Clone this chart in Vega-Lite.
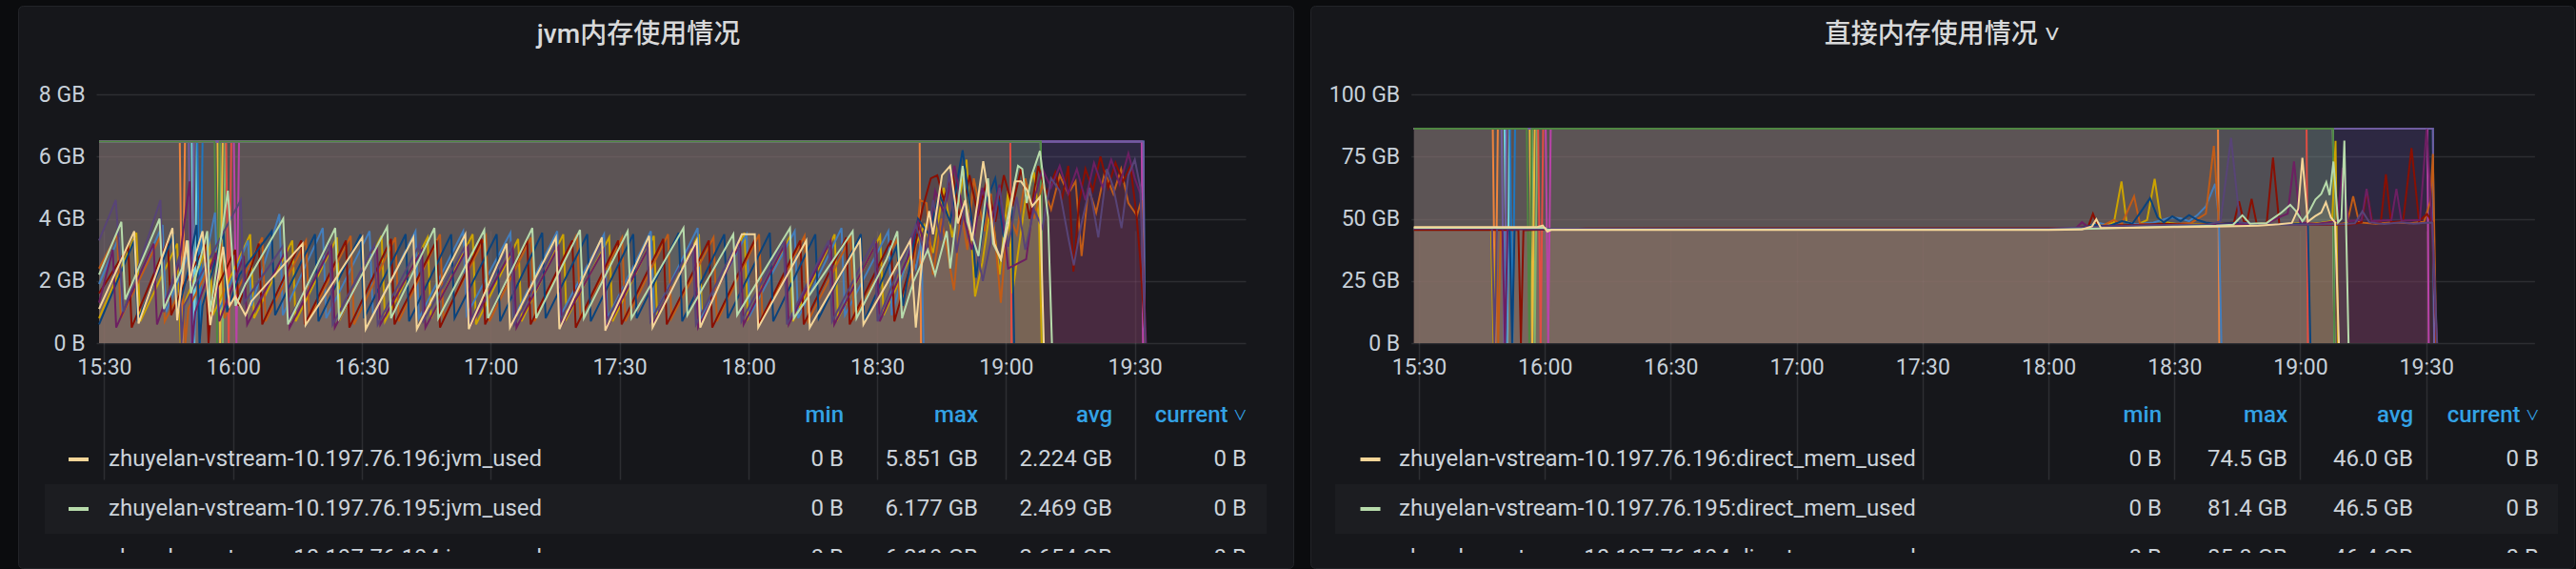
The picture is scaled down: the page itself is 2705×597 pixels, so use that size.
{
"$schema":"https://vega.github.io/schema/vega-lite/v6.json",
"background":"#0b0c0e",
"padding":{"left":18,"top":5,"right":3,"bottom":2},
"autosize":{"type":"pad"},
"spacing":18,
"bounds":"flush",
"config":{
 "view":{"stroke":null},
 "axis":{"domain":false,"labelFont":"Roboto","labelFontSize":23,"labelColor":"#c7d0d9","gridColor":"#ffffff","gridOpacity":0.1,"gridWidth":1.5,"tickColor":"#ffffff","tickOpacity":0.1,"tickWidth":1.5,"zindex":1,"labelFlush":false,"labelOverlap":false},
 "title":{"anchor":"middle","frame":"group","offset":-45,"baseline":"middle","fontSize":28,"font":"Roboto, 'Noto Sans CJK SC', sans-serif","fontWeight":500,"color":"#d8d9da"},
 "text":{"font":"Roboto","fontSize":24,"color":"#ccd3da"}
},
"datasets":{
"legL":[
 {"r":1,"s":"U17","name":"zhuyelan-vstream-10.197.76.196:jvm_used","min":"0 B","max":"5.851 GB","avg":"2.224 GB","current":"0 B"},
 {"r":2,"s":"U16","name":"zhuyelan-vstream-10.197.76.195:jvm_used","min":"0 B","max":"6.177 GB","avg":"2.469 GB","current":"0 B"},
 {"r":3,"s":"U15","name":"zhuyelan-vstream-10.197.76.194:jvm_used","min":"0 B","max":"6.219 GB","avg":"2.654 GB","current":"0 B"}
],
"legR":[
 {"r":1,"s":"U17","name":"zhuyelan-vstream-10.197.76.196:direct_mem_used","min":"0 B","max":"74.5 GB","avg":"46.0 GB","current":"0 B"},
 {"r":2,"s":"U16","name":"zhuyelan-vstream-10.197.76.195:direct_mem_used","min":"0 B","max":"81.4 GB","avg":"46.5 GB","current":"0 B"},
 {"r":3,"s":"U15","name":"zhuyelan-vstream-10.197.76.194:direct_mem_used","min":"0 B","max":"85.0 GB","avg":"46.4 GB","current":"0 B"}
],
"jvm":[
{"s":"S0","m":28.8,"v":6.48},{"s":"S0","m":57.0,"v":6.48},{"s":"S0","m":57.6,"v":0},{"s":"S0","m":58.2,"v":6.48},{"s":"S0","m":248.1,"v":6.48},{"s":"S0","m":248.4,"v":0},
{"s":"S1","m":28.8,"v":6.48},{"s":"S1","m":56.4,"v":6.48},{"s":"S1","m":57.0,"v":0},{"s":"S1","m":57.6,"v":6.48},{"s":"S1","m":248.1,"v":6.48},{"s":"S1","m":248.4,"v":0},
{"s":"S2","m":28.8,"v":6.48},{"s":"S2","m":50.4,"v":6.48},{"s":"S2","m":51.0,"v":0},{"s":"S2","m":51.6,"v":6.48},{"s":"S2","m":248.1,"v":6.48},{"s":"S2","m":248.4,"v":0},
{"s":"S3","m":28.8,"v":6.48},{"s":"S3","m":47.6,"v":6.48},{"s":"S3","m":48.2,"v":0},{"s":"S3","m":48.8,"v":6.48},{"s":"S3","m":219.9,"v":6.48},{"s":"S3","m":220.2,"v":0},
{"s":"S4","m":28.8,"v":6.48},{"s":"S4","m":58.4,"v":6.48},{"s":"S4","m":59.0,"v":0},{"s":"S4","m":59.6,"v":6.48},{"s":"S4","m":241.0,"v":6.48},{"s":"S4","m":241.3,"v":0},
{"s":"S5","m":28.8,"v":6.48},{"s":"S5","m":51.7,"v":6.48},{"s":"S5","m":52.3,"v":0},{"s":"S5","m":52.9,"v":6.48},{"s":"S5","m":272.0,"v":6.48},{"s":"S5","m":272.3,"v":0},
{"s":"S6","m":28.8,"v":6.48},{"s":"S6","m":60.2,"v":6.48},{"s":"S6","m":60.8,"v":0},{"s":"S6","m":61.4,"v":6.48},{"s":"S6","m":271.6,"v":6.48},{"s":"S6","m":271.9,"v":0},
{"s":"S7","m":28.8,"v":6.48},{"s":"S7","m":49.7,"v":6.48},{"s":"S7","m":50.3,"v":0},{"s":"S7","m":50.9,"v":6.48},{"s":"S7","m":272.0,"v":6.48},{"s":"S7","m":272.3,"v":0},
{"s":"S8","m":28.8,"v":6.48},{"s":"S8","m":55.7,"v":6.48},{"s":"S8","m":56.3,"v":0},{"s":"S8","m":56.9,"v":6.48},{"s":"S8","m":248.1,"v":6.48},{"s":"S8","m":248.4,"v":0},
{"s":"U9","m":28.8,"v":0.8},{"s":"U9","m":37.5,"v":3.55},{"s":"U9","m":38.4,"v":0.7},{"s":"U9","m":47.0,"v":3.2},{"s":"U9","m":47.8,"v":0},{"s":"U9","m":48.5,"v":1.2},{"s":"U9","m":54.5,"v":3.3},{"s":"U9","m":55.3,"v":0.9},{"s":"U9","m":64.0,"v":3.5},{"s":"U9","m":64.9,"v":0.8},{"s":"U9","m":73.8,"v":3.3},{"s":"U9","m":74.6,"v":0.7},{"s":"U9","m":84.2,"v":3.4},{"s":"U9","m":85.0,"v":0.8},{"s":"U9","m":94.6,"v":3.45},{"s":"U9","m":95.4,"v":0.7},{"s":"U9","m":105.3,"v":3.4},{"s":"U9","m":106.1,"v":0.8},{"s":"U9","m":115.8,"v":3.5},{"s":"U9","m":116.6,"v":0.6},{"s":"U9","m":126.4,"v":3.35},{"s":"U9","m":127.2,"v":0.7},{"s":"U9","m":136.9,"v":3.5},{"s":"U9","m":137.7,"v":0.8},{"s":"U9","m":147.6,"v":3.4},{"s":"U9","m":148.4,"v":0.7},{"s":"U9","m":158.0,"v":3.45},{"s":"U9","m":158.8,"v":0.8},{"s":"U9","m":168.5,"v":3.5},{"s":"U9","m":169.3,"v":0.7},{"s":"U9","m":179.1,"v":3.55},{"s":"U9","m":179.9,"v":0.8},{"s":"U9","m":189.6,"v":3.4},{"s":"U9","m":190.4,"v":0.7},{"s":"U9","m":200.1,"v":3.5},{"s":"U9","m":200.9,"v":0.8},{"s":"U9","m":210.7,"v":3.45},{"s":"U9","m":211.5,"v":0.9},{"s":"U9","m":218.5,"v":3.0},{"s":"U9","m":221.0,"v":3.8},{"s":"U9","m":223.0,"v":2.9},{"s":"U9","m":225.5,"v":5.0},{"s":"U9","m":227.5,"v":3.4},{"s":"U9","m":230.8,"v":5.9},{"s":"U9","m":232.8,"v":1.5},{"s":"U9","m":234.5,"v":2.6},{"s":"U9","m":236.5,"v":4.5},{"s":"U9","m":238.5,"v":2.2},{"s":"U9","m":240.5,"v":4.9},{"s":"U9","m":241.5,"v":1.6},{"s":"U9","m":244.5,"v":4.6},{"s":"U9","m":246.5,"v":5.5},{"s":"U9","m":247.7,"v":4.0},{"s":"U9","m":248.3,"v":0},
{"s":"U10","m":28.8,"v":1.9},{"s":"U10","m":33.4,"v":3.4},{"s":"U10","m":34.2,"v":0.9},{"s":"U10","m":43.6,"v":3.8},{"s":"U10","m":44.4,"v":1.0},{"s":"U10","m":50.0,"v":3.0},{"s":"U10","m":50.8,"v":0},{"s":"U10","m":51.6,"v":1.3},{"s":"U10","m":55.8,"v":4.2},{"s":"U10","m":56.6,"v":1.0},{"s":"U10","m":63.5,"v":3.3},{"s":"U10","m":64.3,"v":1.2},{"s":"U10","m":70.8,"v":4.15},{"s":"U10","m":71.6,"v":0.9},{"s":"U10","m":80.9,"v":3.7},{"s":"U10","m":81.7,"v":0.8},{"s":"U10","m":91.8,"v":3.6},{"s":"U10","m":92.6,"v":0.9},{"s":"U10","m":102.5,"v":3.6},{"s":"U10","m":103.3,"v":0.8},{"s":"U10","m":113.6,"v":3.6},{"s":"U10","m":114.4,"v":0.9},{"s":"U10","m":124.6,"v":3.55},{"s":"U10","m":125.4,"v":0.8},{"s":"U10","m":135.5,"v":3.6},{"s":"U10","m":136.3,"v":0.9},{"s":"U10","m":146.4,"v":3.5},{"s":"U10","m":147.2,"v":0.8},{"s":"U10","m":157.3,"v":3.6},{"s":"U10","m":158.1,"v":0.9},{"s":"U10","m":168.2,"v":3.7},{"s":"U10","m":169.0,"v":0.8},{"s":"U10","m":179.6,"v":3.5},{"s":"U10","m":180.4,"v":0.9},{"s":"U10","m":190.8,"v":3.6},{"s":"U10","m":191.6,"v":0.8},{"s":"U10","m":201.7,"v":3.7},{"s":"U10","m":202.5,"v":0.9},{"s":"U10","m":212.6,"v":3.6},{"s":"U10","m":213.4,"v":0.9},{"s":"U10","m":217.5,"v":3.0},{"s":"U10","m":219.0,"v":2.4},{"s":"U10","m":220.3,"v":3.3},{"s":"U10","m":220.8,"v":0},
{"s":"U11","m":28.8,"v":2.4},{"s":"U11","m":33.0,"v":3.5},{"s":"U11","m":33.9,"v":0.8},{"s":"U11","m":43.3,"v":3.5},{"s":"U11","m":44.1,"v":0.7},{"s":"U11","m":48.2,"v":1.8},{"s":"U11","m":48.9,"v":0},{"s":"U11","m":49.6,"v":1.1},{"s":"U11","m":57.2,"v":3.2},{"s":"U11","m":58.0,"v":0.8},{"s":"U11","m":66.8,"v":3.4},{"s":"U11","m":67.6,"v":0.7},{"s":"U11","m":77.0,"v":3.3},{"s":"U11","m":77.8,"v":0.8},{"s":"U11","m":87.4,"v":3.45},{"s":"U11","m":88.2,"v":0.6},{"s":"U11","m":97.8,"v":3.4},{"s":"U11","m":98.6,"v":0.7},{"s":"U11","m":108.2,"v":3.5},{"s":"U11","m":109.0,"v":0.8},{"s":"U11","m":118.9,"v":3.45},{"s":"U11","m":119.7,"v":0.7},{"s":"U11","m":129.4,"v":3.4},{"s":"U11","m":130.2,"v":0.7},{"s":"U11","m":140.1,"v":3.5},{"s":"U11","m":140.9,"v":0.8},{"s":"U11","m":150.6,"v":3.4},{"s":"U11","m":151.4,"v":0.7},{"s":"U11","m":161.3,"v":3.5},{"s":"U11","m":162.1,"v":0.8},{"s":"U11","m":171.9,"v":3.4},{"s":"U11","m":172.7,"v":0.7},{"s":"U11","m":182.5,"v":3.5},{"s":"U11","m":183.3,"v":0.8},{"s":"U11","m":193.1,"v":3.45},{"s":"U11","m":193.9,"v":0.7},{"s":"U11","m":203.8,"v":3.4},{"s":"U11","m":204.6,"v":0.8},{"s":"U11","m":214.5,"v":3.3},{"s":"U11","m":215.3,"v":1.2},{"s":"U11","m":218.5,"v":2.4},{"s":"U11","m":220.0,"v":4.6},{"s":"U11","m":221.5,"v":4.5},{"s":"U11","m":223.0,"v":2.2},{"s":"U11","m":225.0,"v":4.0},{"s":"U11","m":227.9,"v":1.7},{"s":"U11","m":229.5,"v":4.3},{"s":"U11","m":231.0,"v":3.0},{"s":"U11","m":232.5,"v":5.3},{"s":"U11","m":235.0,"v":3.6},{"s":"U11","m":236.5,"v":4.8},{"s":"U11","m":238.8,"v":1.3},{"s":"U11","m":240.5,"v":4.2},{"s":"U11","m":242.5,"v":3.5},{"s":"U11","m":244.5,"v":5.3},{"s":"U11","m":246.5,"v":4.0},{"s":"U11","m":248.5,"v":5.1},{"s":"U11","m":250.5,"v":4.3},{"s":"U11","m":252.5,"v":5.4},{"s":"U11","m":254.5,"v":4.8},{"s":"U11","m":256.2,"v":5.2},{"s":"U11","m":257.6,"v":2.8},{"s":"U11","m":259.2,"v":5.0},{"s":"U11","m":261.0,"v":4.2},{"s":"U11","m":263.0,"v":5.5},{"s":"U11","m":265.0,"v":4.8},{"s":"U11","m":266.8,"v":5.6},{"s":"U11","m":268.5,"v":4.5},{"s":"U11","m":270.5,"v":4.1},{"s":"U11","m":271.5,"v":4.6},{"s":"U11","m":272.4,"v":0},
{"s":"U12","m":28.8,"v":1.6},{"s":"U12","m":35.6,"v":3.1},{"s":"U12","m":36.4,"v":0.5},{"s":"U12","m":44.8,"v":3.3},{"s":"U12","m":45.6,"v":0.9},{"s":"U12","m":49.0,"v":2.0},{"s":"U12","m":53.5,"v":3.1},{"s":"U12","m":54.3,"v":0},{"s":"U12","m":55.0,"v":1.4},{"s":"U12","m":60.5,"v":3.0},{"s":"U12","m":61.3,"v":1.2},{"s":"U12","m":66.0,"v":3.2},{"s":"U12","m":66.8,"v":0.6},{"s":"U12","m":75.9,"v":3.3},{"s":"U12","m":76.7,"v":0.6},{"s":"U12","m":86.3,"v":3.3},{"s":"U12","m":87.1,"v":0.5},{"s":"U12","m":96.8,"v":3.35},{"s":"U12","m":97.6,"v":0.6},{"s":"U12","m":107.4,"v":3.3},{"s":"U12","m":108.2,"v":0.5},{"s":"U12","m":117.9,"v":3.35},{"s":"U12","m":118.7,"v":0.6},{"s":"U12","m":128.5,"v":3.3},{"s":"U12","m":129.3,"v":0.6},{"s":"U12","m":139.0,"v":3.3},{"s":"U12","m":139.8,"v":0.5},{"s":"U12","m":149.7,"v":3.3},{"s":"U12","m":150.5,"v":0.6},{"s":"U12","m":160.2,"v":3.35},{"s":"U12","m":161.0,"v":0.6},{"s":"U12","m":170.8,"v":3.3},{"s":"U12","m":171.6,"v":0.5},{"s":"U12","m":181.6,"v":3.35},{"s":"U12","m":182.4,"v":0.6},{"s":"U12","m":192.1,"v":3.3},{"s":"U12","m":192.9,"v":0.6},{"s":"U12","m":202.8,"v":3.4},{"s":"U12","m":203.6,"v":0.6},{"s":"U12","m":213.2,"v":3.3},{"s":"U12","m":214.0,"v":0.7},{"s":"U12","m":218.0,"v":2.6},{"s":"U12","m":220.5,"v":4.3},{"s":"U12","m":222.5,"v":5.3},{"s":"U12","m":224.0,"v":5.4},{"s":"U12","m":225.5,"v":4.6},{"s":"U12","m":227.5,"v":5.5},{"s":"U12","m":229.5,"v":3.8},{"s":"U12","m":231.5,"v":5.4},{"s":"U12","m":233.5,"v":4.1},{"s":"U12","m":235.5,"v":5.2},{"s":"U12","m":237.5,"v":3.9},{"s":"U12","m":239.5,"v":5.4},{"s":"U12","m":241.5,"v":4.4},{"s":"U12","m":243.5,"v":5.6},{"s":"U12","m":245.5,"v":4.0},{"s":"U12","m":247.5,"v":5.7},{"s":"U12","m":249.5,"v":4.8},{"s":"U12","m":251.5,"v":5.5},{"s":"U12","m":253.0,"v":4.6},{"s":"U12","m":254.5,"v":5.7},{"s":"U12","m":255.7,"v":2.3},{"s":"U12","m":257.0,"v":4.5},{"s":"U12","m":258.5,"v":5.6},{"s":"U12","m":260.2,"v":4.9},{"s":"U12","m":262.0,"v":6.0},{"s":"U12","m":263.8,"v":5.0},{"s":"U12","m":265.5,"v":5.8},{"s":"U12","m":267.3,"v":5.2},{"s":"U12","m":269.0,"v":5.7},{"s":"U12","m":270.4,"v":4.1},{"s":"U12","m":271.2,"v":2.8},{"s":"U12","m":272.5,"v":0},
{"s":"U13","m":28.8,"v":0.6},{"s":"U13","m":37.0,"v":3.3},{"s":"U13","m":37.8,"v":0.7},{"s":"U13","m":46.2,"v":3.5},{"s":"U13","m":47.0,"v":0.9},{"s":"U13","m":49.5,"v":2.3},{"s":"U13","m":51.5,"v":3.8},{"s":"U13","m":52.2,"v":0},{"s":"U13","m":52.9,"v":1.2},{"s":"U13","m":57.8,"v":3.6},{"s":"U13","m":58.6,"v":1.0},{"s":"U13","m":61.5,"v":2.2},{"s":"U13","m":69.0,"v":3.6},{"s":"U13","m":69.8,"v":0.9},{"s":"U13","m":79.1,"v":3.5},{"s":"U13","m":79.9,"v":0.7},{"s":"U13","m":89.7,"v":3.5},{"s":"U13","m":90.5,"v":0.8},{"s":"U13","m":100.2,"v":3.5},{"s":"U13","m":101.0,"v":0.7},{"s":"U13","m":110.8,"v":3.5},{"s":"U13","m":111.6,"v":0.8},{"s":"U13","m":121.4,"v":3.5},{"s":"U13","m":122.2,"v":0.7},{"s":"U13","m":132.0,"v":3.55},{"s":"U13","m":132.8,"v":0.8},{"s":"U13","m":142.5,"v":3.5},{"s":"U13","m":143.3,"v":0.7},{"s":"U13","m":153.2,"v":3.5},{"s":"U13","m":154.0,"v":0.8},{"s":"U13","m":163.8,"v":3.55},{"s":"U13","m":164.6,"v":0.7},{"s":"U13","m":174.4,"v":3.5},{"s":"U13","m":175.2,"v":0.8},{"s":"U13","m":185.0,"v":3.55},{"s":"U13","m":185.8,"v":0.7},{"s":"U13","m":195.6,"v":3.5},{"s":"U13","m":196.4,"v":0.8},{"s":"U13","m":206.2,"v":3.5},{"s":"U13","m":207.0,"v":0.7},{"s":"U13","m":214.5,"v":3.1},{"s":"U13","m":216.0,"v":1.2},{"s":"U13","m":219.5,"v":4.0},{"s":"U13","m":222.0,"v":3.5},{"s":"U13","m":224.5,"v":4.8},{"s":"U13","m":227.0,"v":3.9},{"s":"U13","m":229.9,"v":6.2},{"s":"U13","m":231.8,"v":4.2},{"s":"U13","m":233.0,"v":2.1},{"s":"U13","m":235.5,"v":4.6},{"s":"U13","m":237.5,"v":5.3},{"s":"U13","m":239.5,"v":3.4},{"s":"U13","m":241.3,"v":4.5},{"s":"U13","m":241.9,"v":0},
{"s":"U14","m":28.8,"v":1.3},{"s":"U14","m":32.0,"v":3.0},{"s":"U14","m":32.8,"v":0.5},{"s":"U14","m":41.5,"v":3.2},{"s":"U14","m":42.3,"v":0.6},{"s":"U14","m":47.5,"v":2.6},{"s":"U14","m":49.9,"v":5.2},{"s":"U14","m":50.5,"v":0},{"s":"U14","m":51.2,"v":1.0},{"s":"U14","m":56.0,"v":2.9},{"s":"U14","m":56.8,"v":0.7},{"s":"U14","m":62.5,"v":2.8},{"s":"U14","m":63.3,"v":0.6},{"s":"U14","m":72.4,"v":3.0},{"s":"U14","m":73.2,"v":0.5},{"s":"U14","m":82.9,"v":3.1},{"s":"U14","m":83.7,"v":0.5},{"s":"U14","m":93.5,"v":3.1},{"s":"U14","m":94.3,"v":0.6},{"s":"U14","m":104.0,"v":3.0},{"s":"U14","m":104.8,"v":0.5},{"s":"U14","m":114.7,"v":3.1},{"s":"U14","m":115.5,"v":0.6},{"s":"U14","m":125.2,"v":3.05},{"s":"U14","m":126.0,"v":0.5},{"s":"U14","m":135.8,"v":3.1},{"s":"U14","m":136.6,"v":0.6},{"s":"U14","m":146.3,"v":3.0},{"s":"U14","m":147.1,"v":0.5},{"s":"U14","m":156.9,"v":3.1},{"s":"U14","m":157.7,"v":0.6},{"s":"U14","m":167.5,"v":3.1},{"s":"U14","m":168.3,"v":0.5},{"s":"U14","m":178.1,"v":3.2},{"s":"U14","m":178.9,"v":0.6},{"s":"U14","m":188.6,"v":3.2},{"s":"U14","m":189.4,"v":0.6},{"s":"U14","m":199.2,"v":3.3},{"s":"U14","m":200.0,"v":0.6},{"s":"U14","m":209.8,"v":3.2},{"s":"U14","m":210.6,"v":0.7},{"s":"U14","m":217.0,"v":2.7},{"s":"U14","m":219.5,"v":3.9},{"s":"U14","m":221.5,"v":2.9},{"s":"U14","m":223.5,"v":4.9},{"s":"U14","m":225.5,"v":4.2},{"s":"U14","m":228.0,"v":5.7},{"s":"U14","m":230.0,"v":4.2},{"s":"U14","m":232.0,"v":3.0},{"s":"U14","m":234.5,"v":5.0},{"s":"U14","m":236.5,"v":3.9},{"s":"U14","m":238.5,"v":5.1},{"s":"U14","m":240.5,"v":2.4},{"s":"U14","m":244.7,"v":2.7},{"s":"U14","m":246.5,"v":4.6},{"s":"U14","m":248.5,"v":5.6},{"s":"U14","m":250.5,"v":5.0},{"s":"U14","m":252.5,"v":5.7},{"s":"U14","m":254.5,"v":4.8},{"s":"U14","m":256.5,"v":5.6},{"s":"U14","m":258.5,"v":4.6},{"s":"U14","m":260.5,"v":5.8},{"s":"U14","m":262.5,"v":5.0},{"s":"U14","m":264.5,"v":5.9},{"s":"U14","m":266.5,"v":5.1},{"s":"U14","m":268.5,"v":6.1},{"s":"U14","m":270.0,"v":5.3},{"s":"U14","m":271.3,"v":4.8},{"s":"U14","m":272.6,"v":0},
{"s":"U15","m":28.8,"v":3.3},{"s":"U15","m":32.7,"v":4.6},{"s":"U15","m":34.5,"v":1.0},{"s":"U15","m":43.1,"v":4.6},{"s":"U15","m":43.9,"v":1.0},{"s":"U15","m":47.5,"v":2.8},{"s":"U15","m":48.0,"v":0},{"s":"U15","m":48.6,"v":1.2},{"s":"U15","m":61.8,"v":4.6},{"s":"U15","m":62.6,"v":1.3},{"s":"U15","m":72.0,"v":3.2},{"s":"U15","m":72.8,"v":0.7},{"s":"U15","m":82.4,"v":3.2},{"s":"U15","m":83.2,"v":0.6},{"s":"U15","m":92.9,"v":3.15},{"s":"U15","m":93.7,"v":0.6},{"s":"U15","m":103.5,"v":3.2},{"s":"U15","m":104.3,"v":0.7},{"s":"U15","m":114.0,"v":3.1},{"s":"U15","m":114.8,"v":0.6},{"s":"U15","m":124.7,"v":3.2},{"s":"U15","m":125.5,"v":0.6},{"s":"U15","m":135.2,"v":3.15},{"s":"U15","m":136.0,"v":0.7},{"s":"U15","m":145.8,"v":3.2},{"s":"U15","m":146.6,"v":0.6},{"s":"U15","m":156.4,"v":3.2},{"s":"U15","m":157.2,"v":0.7},{"s":"U15","m":167.0,"v":3.2},{"s":"U15","m":167.8,"v":0.6},{"s":"U15","m":177.6,"v":3.3},{"s":"U15","m":178.4,"v":0.7},{"s":"U15","m":188.2,"v":3.3},{"s":"U15","m":189.0,"v":0.6},{"s":"U15","m":198.7,"v":3.3},{"s":"U15","m":199.5,"v":0.7},{"s":"U15","m":209.3,"v":3.3},{"s":"U15","m":210.1,"v":0.7},{"s":"U15","m":216.5,"v":2.9},{"s":"U15","m":219.0,"v":3.8},{"s":"U15","m":221.3,"v":2.8},{"s":"U15","m":223.0,"v":4.6},{"s":"U15","m":224.8,"v":3.3},{"s":"U15","m":226.8,"v":5.5},{"s":"U15","m":228.5,"v":2.9},{"s":"U15","m":230.5,"v":4.5},{"s":"U15","m":232.5,"v":3.5},{"s":"U15","m":234.6,"v":2.0},{"s":"U15","m":236.5,"v":3.3},{"s":"U15","m":238.5,"v":5.0},{"s":"U15","m":240.5,"v":3.1},{"s":"U15","m":242.5,"v":4.7},{"s":"U15","m":244.5,"v":3.0},{"s":"U15","m":246.5,"v":4.3},{"s":"U15","m":248.5,"v":3.7},{"s":"U15","m":250.5,"v":5.3},{"s":"U15","m":252.5,"v":4.9},{"s":"U15","m":254.5,"v":3.4},{"s":"U15","m":255.8,"v":2.5},{"s":"U15","m":257.5,"v":3.8},{"s":"U15","m":259.5,"v":5.0},{"s":"U15","m":261.5,"v":3.4},{"s":"U15","m":263.5,"v":5.6},{"s":"U15","m":265.0,"v":5.0},{"s":"U15","m":266.9,"v":3.7},{"s":"U15","m":268.5,"v":5.4},{"s":"U15","m":270.0,"v":5.9},{"s":"U15","m":271.3,"v":5.0},{"s":"U15","m":272.4,"v":0},
{"s":"U16","m":28.8,"v":2.2},{"s":"U16","m":34.0,"v":3.9},{"s":"U16","m":34.9,"v":1.4},{"s":"U16","m":42.9,"v":4.0},{"s":"U16","m":43.9,"v":1.1},{"s":"U16","m":48.1,"v":2.4},{"s":"U16","m":49.5,"v":3.3},{"s":"U16","m":50.2,"v":1.6},{"s":"U16","m":52.0,"v":2.5},{"s":"U16","m":54.0,"v":3.6},{"s":"U16","m":54.7,"v":1.0},{"s":"U16","m":58.8,"v":4.9},{"s":"U16","m":60.6,"v":1.2},{"s":"U16","m":62.9,"v":1.9},{"s":"U16","m":71.7,"v":4.0},{"s":"U16","m":72.8,"v":0.6},{"s":"U16","m":83.8,"v":3.7},{"s":"U16","m":84.7,"v":0.8},{"s":"U16","m":95.9,"v":3.74},{"s":"U16","m":96.8,"v":0.8},{"s":"U16","m":106.9,"v":3.7},{"s":"U16","m":107.8,"v":0.8},{"s":"U16","m":118.5,"v":3.64},{"s":"U16","m":119.4,"v":0.8},{"s":"U16","m":129.7,"v":3.7},{"s":"U16","m":130.6,"v":0.8},{"s":"U16","m":140.8,"v":3.64},{"s":"U16","m":141.7,"v":0.8},{"s":"U16","m":151.9,"v":3.6},{"s":"U16","m":152.8,"v":0.8},{"s":"U16","m":164.9,"v":3.7},{"s":"U16","m":165.8,"v":0.9},{"s":"U16","m":176.5,"v":3.5},{"s":"U16","m":177.4,"v":0.9},{"s":"U16","m":189.7,"v":3.7},{"s":"U16","m":190.6,"v":0.8},{"s":"U16","m":204.3,"v":3.6},{"s":"U16","m":205.2,"v":0.8},{"s":"U16","m":212.2,"v":2.7},{"s":"U16","m":214.7,"v":3.6},{"s":"U16","m":215.8,"v":0.8},{"s":"U16","m":218.5,"v":2.0},{"s":"U16","m":221.8,"v":3.0},{"s":"U16","m":223.5,"v":2.2},{"s":"U16","m":226.2,"v":3.6},{"s":"U16","m":227.0,"v":2.4},{"s":"U16","m":229.9,"v":5.7},{"s":"U16","m":231.0,"v":3.9},{"s":"U16","m":233.6,"v":2.8},{"s":"U16","m":235.8,"v":5.3},{"s":"U16","m":237.0,"v":3.2},{"s":"U16","m":238.8,"v":2.7},{"s":"U16","m":240.2,"v":3.9},{"s":"U16","m":242.8,"v":5.7},{"s":"U16","m":243.8,"v":5.6},{"s":"U16","m":244.8,"v":4.5},{"s":"U16","m":246.0,"v":5.4},{"s":"U16","m":247.9,"v":6.18},{"s":"U16","m":249.8,"v":4.05},{"s":"U16","m":250.7,"v":0},
{"s":"U17","m":28.8,"v":1.1},{"s":"U17","m":37.0,"v":3.6},{"s":"U17","m":38.0,"v":0.63},{"s":"U17","m":45.9,"v":3.7},{"s":"U17","m":47.0,"v":0.73},{"s":"U17","m":49.2,"v":3.3},{"s":"U17","m":50.0,"v":2.0},{"s":"U17","m":51.4,"v":2.9},{"s":"U17","m":52.9,"v":3.6},{"s":"U17","m":54.7,"v":0.58},{"s":"U17","m":57.7,"v":3.1},{"s":"U17","m":59.2,"v":1.2},{"s":"U17","m":60.5,"v":1.5},{"s":"U17","m":62.9,"v":0.9},{"s":"U17","m":64.3,"v":1.35},{"s":"U17","m":76.2,"v":3.2},{"s":"U17","m":76.9,"v":0.58},{"s":"U17","m":90.1,"v":3.4},{"s":"U17","m":90.9,"v":0.45},{"s":"U17","m":102.0,"v":3.4},{"s":"U17","m":102.8,"v":0.45},{"s":"U17","m":114.1,"v":3.5},{"s":"U17","m":114.9,"v":0.45},{"s":"U17","m":123.7,"v":3.2},{"s":"U17","m":124.5,"v":0.5},{"s":"U17","m":135.2,"v":3.4},{"s":"U17","m":136.0,"v":0.45},{"s":"U17","m":145.9,"v":3.4},{"s":"U17","m":146.7,"v":0.4},{"s":"U17","m":156.9,"v":3.45},{"s":"U17","m":157.7,"v":0.5},{"s":"U17","m":168.0,"v":3.3},{"s":"U17","m":168.8,"v":0.5},{"s":"U17","m":178.5,"v":3.5},{"s":"U17","m":181.5,"v":3.5},{"s":"U17","m":182.3,"v":0.5},{"s":"U17","m":193.5,"v":3.3},{"s":"U17","m":194.3,"v":0.5},{"s":"U17","m":206.0,"v":3.3},{"s":"U17","m":206.8,"v":0.6},{"s":"U17","m":212.2,"v":1.9},{"s":"U17","m":217.7,"v":3.3},{"s":"U17","m":219.0,"v":0.5},{"s":"U17","m":221.0,"v":3.4},{"s":"U17","m":222.1,"v":4.25},{"s":"U17","m":223.0,"v":3.5},{"s":"U17","m":225.1,"v":5.4},{"s":"U17","m":227.0,"v":5.7},{"s":"U17","m":228.8,"v":3.85},{"s":"U17","m":230.5,"v":4.6},{"s":"U17","m":232.1,"v":3.3},{"s":"U17","m":234.7,"v":5.85},{"s":"U17","m":236.0,"v":4.7},{"s":"U17","m":237.3,"v":3.2},{"s":"U17","m":238.8,"v":2.7},{"s":"U17","m":240.5,"v":3.8},{"s":"U17","m":242.1,"v":5.2},{"s":"U17","m":243.5,"v":5.2},{"s":"U17","m":245.0,"v":4.9},{"s":"U17","m":246.1,"v":4.4},{"s":"U17","m":247.9,"v":4.7},{"s":"U17","m":248.8,"v":0}
],
"direct":[
{"s":"S0","m":28.8,"v":86.2},{"s":"S0","m":57.0,"v":86.2},{"s":"S0","m":57.6,"v":0},{"s":"S0","m":58.2,"v":86.2},{"s":"S0","m":247.8,"v":86.2},{"s":"S0","m":248.1,"v":0},
{"s":"S1","m":28.8,"v":86.2},{"s":"S1","m":56.4,"v":86.2},{"s":"S1","m":57.0,"v":0},{"s":"S1","m":57.6,"v":86.2},{"s":"S1","m":247.8,"v":86.2},{"s":"S1","m":248.1,"v":0},
{"s":"S2","m":28.8,"v":86.2},{"s":"S2","m":50.4,"v":86.2},{"s":"S2","m":51.0,"v":0},{"s":"S2","m":51.6,"v":86.2},{"s":"S2","m":247.8,"v":86.2},{"s":"S2","m":248.1,"v":0},
{"s":"S3","m":28.8,"v":86.2},{"s":"S3","m":47.6,"v":86.2},{"s":"S3","m":48.2,"v":0},{"s":"S3","m":48.8,"v":86.2},{"s":"S3","m":220.4,"v":86.2},{"s":"S3","m":220.7,"v":0},
{"s":"S4","m":28.8,"v":86.2},{"s":"S4","m":58.4,"v":86.2},{"s":"S4","m":59.0,"v":0},{"s":"S4","m":59.6,"v":86.2},{"s":"S4","m":241.5,"v":86.2},{"s":"S4","m":241.8,"v":0},
{"s":"S5","m":28.8,"v":86.2},{"s":"S5","m":51.7,"v":86.2},{"s":"S5","m":52.3,"v":0},{"s":"S5","m":52.9,"v":86.2},{"s":"S5","m":271.6,"v":86.2},{"s":"S5","m":271.9,"v":0},
{"s":"S6","m":28.8,"v":86.2},{"s":"S6","m":60.2,"v":86.2},{"s":"S6","m":60.8,"v":0},{"s":"S6","m":61.4,"v":86.2},{"s":"S6","m":270.3,"v":86.2},{"s":"S6","m":270.6,"v":0},
{"s":"S7","m":28.8,"v":86.2},{"s":"S7","m":49.7,"v":86.2},{"s":"S7","m":50.3,"v":0},{"s":"S7","m":50.9,"v":86.2},{"s":"S7","m":271.6,"v":86.2},{"s":"S7","m":271.9,"v":0},
{"s":"S8","m":28.8,"v":86.2},{"s":"S8","m":55.7,"v":86.2},{"s":"S8","m":56.3,"v":0},{"s":"S8","m":56.9,"v":86.2},{"s":"S8","m":247.8,"v":86.2},{"s":"S8","m":248.1,"v":0},
{"s":"U9","m":28.8,"v":46.3},{"s":"U9","m":47.2,"v":46.3},{"s":"U9","m":47.8,"v":0},{"s":"U9","m":48.4,"v":45.8},{"s":"U9","m":120,"v":45.9},{"s":"U9","m":185,"v":46.0},{"s":"U9","m":190.0,"v":46.8},{"s":"U9","m":193.0,"v":47.3},{"s":"U9","m":195.6,"v":48.5},{"s":"U9","m":197.4,"v":65.0},{"s":"U9","m":198.6,"v":48.8},{"s":"U9","m":201.0,"v":47.5},{"s":"U9","m":203.5,"v":49.5},{"s":"U9","m":205.3,"v":66.0},{"s":"U9","m":206.8,"v":49.0},{"s":"U9","m":209.0,"v":48.3},{"s":"U9","m":212.0,"v":47.6},{"s":"U9","m":216.0,"v":47.8},{"s":"U9","m":220.0,"v":47.5},{"s":"U9","m":225.0,"v":47.8},{"s":"U9","m":230.0,"v":48.0},{"s":"U9","m":235.0,"v":47.7},{"s":"U9","m":240.0,"v":48.2},{"s":"U9","m":245.0,"v":48.4},{"s":"U9","m":247.6,"v":49.0},{"s":"U9","m":248.4,"v":81.3},{"s":"U9","m":249.0,"v":0},
{"s":"U10","m":28.8,"v":46.0},{"s":"U10","m":50.2,"v":46.0},{"s":"U10","m":50.8,"v":0},{"s":"U10","m":51.4,"v":45.9},{"s":"U10","m":150,"v":45.9},{"s":"U10","m":186,"v":46.0},{"s":"U10","m":189.5,"v":47.0},{"s":"U10","m":192.0,"v":48.4},{"s":"U10","m":194.5,"v":47.2},{"s":"U10","m":198.0,"v":48.8},{"s":"U10","m":201.0,"v":47.8},{"s":"U10","m":205.0,"v":48.5},{"s":"U10","m":209.0,"v":50.5},{"s":"U10","m":211.5,"v":50.2},{"s":"U10","m":213.5,"v":49.0},{"s":"U10","m":215.5,"v":51.5},{"s":"U10","m":217.5,"v":55.0},{"s":"U10","m":219.7,"v":64.0},{"s":"U10","m":220.6,"v":50.0},{"s":"U10","m":221.2,"v":0},
{"s":"U11","m":28.8,"v":46.2},{"s":"U11","m":48.3,"v":46.2},{"s":"U11","m":48.9,"v":0},{"s":"U11","m":49.5,"v":45.7},{"s":"U11","m":140,"v":45.8},{"s":"U11","m":186,"v":45.9},{"s":"U11","m":190,"v":46.5},{"s":"U11","m":193,"v":47.3},{"s":"U11","m":195.5,"v":49.5},{"s":"U11","m":197.5,"v":48.0},{"s":"U11","m":200.4,"v":59.0},{"s":"U11","m":201.8,"v":48.0},{"s":"U11","m":205,"v":47.5},{"s":"U11","m":210,"v":47.9},{"s":"U11","m":214,"v":48.3},{"s":"U11","m":217.5,"v":52.0},{"s":"U11","m":219.4,"v":79.3},{"s":"U11","m":220.6,"v":48.5},{"s":"U11","m":224,"v":47.6},{"s":"U11","m":230,"v":47.9},{"s":"U11","m":236,"v":47.8},{"s":"U11","m":242,"v":47.6},{"s":"U11","m":248,"v":47.5},{"s":"U11","m":251.2,"v":48.4},{"s":"U11","m":252.6,"v":59.0},{"s":"U11","m":254.0,"v":48.5},{"s":"U11","m":258,"v":48.0},{"s":"U11","m":262,"v":48.6},{"s":"U11","m":266,"v":48.2},{"s":"U11","m":269.5,"v":48.8},{"s":"U11","m":271.0,"v":57.0},{"s":"U11","m":271.6,"v":76.0},{"s":"U11","m":272.4,"v":0},
{"s":"U12","m":28.8,"v":45.5},{"s":"U12","m":53.7,"v":45.5},{"s":"U12","m":54.3,"v":0},{"s":"U12","m":54.9,"v":45.4},{"s":"U12","m":70,"v":46.1},{"s":"U12","m":186,"v":46.2},{"s":"U12","m":189.5,"v":47.0},{"s":"U12","m":190.6,"v":52.0},{"s":"U12","m":191.8,"v":47.0},{"s":"U12","m":196,"v":47.3},{"s":"U12","m":202,"v":47.6},{"s":"U12","m":208,"v":48.0},{"s":"U12","m":214,"v":47.5},{"s":"U12","m":220,"v":47.8},{"s":"U12","m":224.2,"v":48.5},{"s":"U12","m":225.4,"v":57.0},{"s":"U12","m":226.6,"v":48.6},{"s":"U12","m":227.3,"v":48.8},{"s":"U12","m":228.4,"v":58.0},{"s":"U12","m":229.6,"v":48.0},{"s":"U12","m":232.0,"v":48.3},{"s":"U12","m":233.5,"v":74.6},{"s":"U12","m":235.0,"v":48.0},{"s":"U12","m":240,"v":47.6},{"s":"U12","m":246,"v":47.5},{"s":"U12","m":252,"v":47.7},{"s":"U12","m":254.6,"v":48.5},{"s":"U12","m":255.9,"v":60.9},{"s":"U12","m":257.2,"v":48.3},{"s":"U12","m":259.2,"v":48.8},{"s":"U12","m":260.4,"v":67.9},{"s":"U12","m":261.6,"v":48.6},{"s":"U12","m":264.5,"v":49.0},{"s":"U12","m":266.5,"v":78.4},{"s":"U12","m":268.3,"v":49.0},{"s":"U12","m":270.2,"v":51.9},{"s":"U12","m":271.5,"v":48.5},{"s":"U12","m":272.5,"v":0},
{"s":"U13","m":28.8,"v":46.1},{"s":"U13","m":51.6,"v":46.1},{"s":"U13","m":52.2,"v":0},{"s":"U13","m":52.8,"v":45.9},{"s":"U13","m":180,"v":45.9},{"s":"U13","m":187.5,"v":46.3},{"s":"U13","m":191,"v":47.5},{"s":"U13","m":194,"v":46.8},{"s":"U13","m":197.5,"v":49.0},{"s":"U13","m":200.0,"v":48.0},{"s":"U13","m":202.5,"v":54.0},{"s":"U13","m":204.2,"v":58.3},{"s":"U13","m":206.0,"v":50.5},{"s":"U13","m":207.5,"v":48.5},{"s":"U13","m":209.5,"v":51.0},{"s":"U13","m":211.5,"v":49.0},{"s":"U13","m":213.5,"v":51.5},{"s":"U13","m":215.5,"v":49.5},{"s":"U13","m":217.5,"v":48.5},{"s":"U13","m":220.0,"v":48.0},{"s":"U13","m":225.0,"v":48.3},{"s":"U13","m":230.0,"v":47.9},{"s":"U13","m":236.0,"v":47.7},{"s":"U13","m":241.8,"v":48.0},{"s":"U13","m":242.4,"v":0},
{"s":"U14","m":28.8,"v":46.0},{"s":"U14","m":49.9,"v":46.0},{"s":"U14","m":50.5,"v":0},{"s":"U14","m":51.1,"v":45.8},{"s":"U14","m":180,"v":45.9},{"s":"U14","m":186.5,"v":46.2},{"s":"U14","m":188.0,"v":48.6},{"s":"U14","m":189.5,"v":46.6},{"s":"U14","m":195,"v":47.0},{"s":"U14","m":205,"v":47.4},{"s":"U14","m":215,"v":47.5},{"s":"U14","m":225,"v":47.8},{"s":"U14","m":232,"v":48.0},{"s":"U14","m":235.5,"v":51.0},{"s":"U14","m":237.0,"v":52.0},{"s":"U14","m":238.5,"v":73.0},{"s":"U14","m":240.0,"v":48.5},{"s":"U14","m":244,"v":48.0},{"s":"U14","m":248.8,"v":49.0},{"s":"U14","m":250.1,"v":70.5},{"s":"U14","m":251.4,"v":49.0},{"s":"U14","m":254.6,"v":49.5},{"s":"U14","m":255.8,"v":62.0},{"s":"U14","m":257.0,"v":49.0},{"s":"U14","m":261.7,"v":49.5},{"s":"U14","m":262.9,"v":62.0},{"s":"U14","m":264.1,"v":49.2},{"s":"U14","m":268.5,"v":49.5},{"s":"U14","m":270.1,"v":86.0},{"s":"U14","m":271.0,"v":60.0},{"s":"U14","m":272.6,"v":0},
{"s":"U15","m":28.8,"v":46.2},{"s":"U15","m":47.4,"v":46.2},{"s":"U15","m":48.0,"v":0},{"s":"U15","m":48.6,"v":46.0},{"s":"U15","m":180,"v":46.0},{"s":"U15","m":190,"v":46.6},{"s":"U15","m":200,"v":47.2},{"s":"U15","m":210,"v":47.5},{"s":"U15","m":218,"v":47.6},{"s":"U15","m":221.0,"v":49.0},{"s":"U15","m":223.5,"v":82.5},{"s":"U15","m":225.6,"v":48.5},{"s":"U15","m":230,"v":47.8},{"s":"U15","m":240,"v":47.6},{"s":"U15","m":250,"v":47.8},{"s":"U15","m":253.0,"v":48.2},{"s":"U15","m":254.8,"v":53.0},{"s":"U15","m":256.5,"v":48.5},{"s":"U15","m":260,"v":47.9},{"s":"U15","m":264,"v":48.6},{"s":"U15","m":267,"v":48.0},{"s":"U15","m":270,"v":48.4},{"s":"U15","m":271.5,"v":48.5},{"s":"U15","m":272.6,"v":0},
{"s":"U16","m":28.8,"v":46.4},{"s":"U16","m":60.0,"v":46.4},{"s":"U16","m":60.6,"v":45.6},{"s":"U16","m":180,"v":45.6},{"s":"U16","m":190,"v":46.0},{"s":"U16","m":200,"v":46.5},{"s":"U16","m":210,"v":46.8},{"s":"U16","m":220,"v":47.2},{"s":"U16","m":224.0,"v":47.6},{"s":"U16","m":226.2,"v":51.4},{"s":"U16","m":228.0,"v":48.0},{"s":"U16","m":232,"v":48.3},{"s":"U16","m":235.5,"v":52.5},{"s":"U16","m":237.6,"v":55.6},{"s":"U16","m":239.0,"v":53.0},{"s":"U16","m":240.5,"v":49.0},{"s":"U16","m":242.0,"v":52.5},{"s":"U16","m":243.6,"v":57.7},{"s":"U16","m":245.0,"v":60.0},{"s":"U16","m":246.2,"v":64.7},{"s":"U16","m":247.0,"v":59.5},{"s":"U16","m":247.9,"v":73.0},{"s":"U16","m":249.0,"v":48.5},{"s":"U16","m":249.8,"v":50.0},{"s":"U16","m":250.5,"v":81.4},{"s":"U16","m":251.5,"v":0},
{"s":"U17","m":28.8,"v":46.6},{"s":"U17","m":58.0,"v":46.6},{"s":"U17","m":59.5,"v":47.3},{"s":"U17","m":60.6,"v":44.8},{"s":"U17","m":61.5,"v":45.5},{"s":"U17","m":180,"v":45.5},{"s":"U17","m":188,"v":45.7},{"s":"U17","m":190.4,"v":47.0},{"s":"U17","m":191.4,"v":49.8},{"s":"U17","m":192.5,"v":46.3},{"s":"U17","m":200,"v":46.4},{"s":"U17","m":210,"v":46.6},{"s":"U17","m":220,"v":46.8},{"s":"U17","m":230,"v":47.2},{"s":"U17","m":235,"v":47.8},{"s":"U17","m":238.0,"v":48.3},{"s":"U17","m":239.5,"v":54.0},{"s":"U17","m":240.5,"v":74.5},{"s":"U17","m":241.8,"v":48.8},{"s":"U17","m":243.5,"v":51.0},{"s":"U17","m":245.0,"v":52.5},{"s":"U17","m":246.1,"v":56.6},{"s":"U17","m":247.3,"v":50.5},{"s":"U17","m":248.3,"v":48.5},{"s":"U17","m":249.2,"v":0}
]
},
"hconcat":[
{
 "width":1339,"height":590,
 "view":{"fill":"#16171b","stroke":"#222428","cornerRadius":5},
 "title":{"text":"jvm内存使用情况","dx":-18},
 "layer":[
  {
   "data":{"name":"jvm"},
   "encoding":{
    "x":{"field":"m","type":"quantitative","title":null,"scale":{"domain":[28.8,295.8],"nice":false,"zero":false,"rangeMin":85,"rangeMax":1289},"axis":{"values":[30,60,90,120,150,180,210,240,270],"labelExpr":"timeFormat(datetime(2020, 0, 1, 15, datum.value), '%H:%M')","ticks":false,"offset":-236,"labelPadding":14}},
    "y":{"field":"v","type":"quantitative","title":null,"stack":null,"scale":{"domain":[0,8],"nice":false,"rangeMin":354,"rangeMax":93},"axis":{"values":[0,2,4,6,8],"labelExpr":"datum.value == 0 ? '0 B' : datum.value + ' GB'","offset":-85,"tickSize":3,"labelPadding":12}},
    "color":{"field":"s","type":"nominal","legend":null,"scale":{"domain":["S0","S1","S2","S3","S4","S5","S6","S7","S8","U9","U10","U11","U12","U13","U14","U15","U16","U17"],"range":["#7EB26D","#EAB839","#6ED0E0","#EF843C","#E24D42","#1F78C1","#BA43A9","#705DA0","#508642","#CCA300","#447EBC","#C15C17","#890F02","#0A437C","#6D1F62","#584477","#B7DBAB","#F4D598"]}}
   },
   "layer":[
    {"mark":{"type":"area","fillOpacity":0.1,"clip":true}},
    {"mark":{"type":"line","strokeWidth":2,"clip":true}}
   ]
  },
  {
   "layer":[
    {"data":{"values":[{}]},"mark":{"type":"rect","color":"#1c1d21"},
     "encoding":{"x":{"datum":0,"type":"quantitative","scale":{"domain":[0,1],"nice":false,"zero":false,"rangeMin":28,"rangeMax":1311},"axis":null},"x2":{"datum":1},
      "y":{"datum":1.5,"type":"quantitative","scale":{"domain":[3.5,-0.5],"nice":false,"zero":false,"rangeMin":606,"rangeMax":398},"axis":null},"y2":{"datum":2.5}}},
    {"data":{"name":"legL"},"mark":{"type":"point","shape":"M-1,-0.19L1,-0.19L1,0.19L-1,0.19Z","filled":true,"size":441,"opacity":1,"strokeWidth":0,"clip":true},
     "encoding":{"x":{"datum":"dash","type":"nominal","scale":{"type":"point","domain":["dash","name"],"padding":0,"rangeMin":63.5,"rangeMax":95},"axis":null},
      "y":{"field":"r","type":"quantitative","scale":{"domain":[3.5,-0.5],"nice":false,"zero":false,"rangeMin":606,"rangeMax":398},"axis":null},
      "color":{"field":"s","type":"nominal","legend":null,"scale":{"domain":["S0","S1","S2","S3","S4","S5","S6","S7","S8","U9","U10","U11","U12","U13","U14","U15","U16","U17"],"range":["#7EB26D","#EAB839","#6ED0E0","#EF843C","#E24D42","#1F78C1","#BA43A9","#705DA0","#508642","#CCA300","#447EBC","#C15C17","#890F02","#0A437C","#6D1F62","#584477","#B7DBAB","#F4D598"]}}}},
    {"data":{"name":"legL"},"mark":{"type":"text","align":"left","baseline":"middle","clip":true},
     "encoding":{"x":{"datum":"name","type":"nominal","scale":{"type":"point","domain":["dash","name"],"padding":0,"rangeMin":63.5,"rangeMax":95},"axis":null},
      "y":{"field":"r","type":"quantitative","scale":{"domain":[3.5,-0.5],"nice":false,"zero":false,"rangeMin":606,"rangeMax":398},"axis":null},
      "text":{"field":"name"}}},
    {"data":{"name":"legL"},"transform":[{"fold":["min","max","avg","current"],"as":["col","txt"]}],"mark":{"type":"text","align":"right","baseline":"middle","clip":true},
     "encoding":{"x":{"field":"col","type":"nominal","scale":{"type":"point","domain":["min","max","avg","current"],"padding":0,"rangeMin":867,"rangeMax":1290},"axis":null},
      "y":{"field":"r","type":"quantitative","scale":{"domain":[3.5,-0.5],"nice":false,"zero":false,"rangeMin":606,"rangeMax":398},"axis":null},
      "text":{"field":"txt"}}},
    {"data":{"values":[{"col":"min","t":"min"},{"col":"max","t":"max"},{"col":"avg","t":"avg"},{"col":"current","t":"current ˅"}]},"mark":{"type":"text","align":"right","baseline":"middle","color":"#33a2e5","fontWeight":500,"dy":6},
     "encoding":{"x":{"field":"col","type":"nominal","scale":{"type":"point","domain":["min","max","avg","current"],"padding":0,"rangeMin":867,"rangeMax":1290},"axis":null},
      "y":{"datum":0,"type":"quantitative","scale":{"domain":[3.5,-0.5],"nice":false,"zero":false,"rangeMin":606,"rangeMax":398},"axis":null},
      "text":{"field":"t"}}},
    {"data":{"values":[{}]},"mark":{"type":"rect","color":"#16171b","clip":true},
     "encoding":{"x":{"datum":0,"type":"quantitative","scale":{"domain":[0,1],"nice":false,"zero":false,"rangeMin":20,"rangeMax":1319},"axis":null},"x2":{"datum":1},
      "y":{"datum":2.885,"type":"quantitative","scale":{"domain":[3.5,-0.5],"nice":false,"zero":false,"rangeMin":606,"rangeMax":398},"axis":null},"y2":{"datum":3.6}}}
   ],
   "resolve":{"scale":{"x":"independent"}}
  }
 ],
 "resolve":{"scale":{"x":"independent","y":"independent"}}
},
{
 "width":1327,"height":590,
 "view":{"fill":"#16171b","stroke":"#222428","cornerRadius":5},
 "title":{"text":"直接内存使用情况 ˅"},
 "layer":[
  {
   "data":{"name":"direct"},
   "encoding":{
    "x":{"field":"m","type":"quantitative","title":null,"scale":{"domain":[28.8,295.8],"nice":false,"zero":false,"rangeMin":108.7,"rangeMax":1285.4},"axis":{"values":[30,60,90,120,150,180,210,240,270],"labelExpr":"timeFormat(datetime(2020, 0, 1, 15, datum.value), '%H:%M')","ticks":false,"offset":-236,"labelPadding":14}},
    "y":{"field":"v","type":"quantitative","title":null,"stack":null,"scale":{"domain":[0,100],"nice":false,"rangeMin":354,"rangeMax":93},"axis":{"values":[0,25,50,75,100],"labelExpr":"datum.value == 0 ? '0 B' : datum.value + ' GB'","offset":-108.7,"tickSize":3,"labelPadding":12}},
    "color":{"field":"s","type":"nominal","legend":null,"scale":{"domain":["S0","S1","S2","S3","S4","S5","S6","S7","S8","U9","U10","U11","U12","U13","U14","U15","U16","U17"],"range":["#7EB26D","#EAB839","#6ED0E0","#EF843C","#E24D42","#1F78C1","#BA43A9","#705DA0","#508642","#CCA300","#447EBC","#C15C17","#890F02","#0A437C","#6D1F62","#584477","#B7DBAB","#F4D598"]}}
   },
   "layer":[
    {"mark":{"type":"area","fillOpacity":0.1,"clip":true}},
    {"mark":{"type":"line","strokeWidth":2,"clip":true}}
   ]
  },
  {
   "layer":[
    {"data":{"values":[{}]},"mark":{"type":"rect","color":"#1c1d21"},
     "encoding":{"x":{"datum":0,"type":"quantitative","scale":{"domain":[0,1],"nice":false,"zero":false,"rangeMin":26,"rangeMax":1310},"axis":null},"x2":{"datum":1},
      "y":{"datum":1.5,"type":"quantitative","scale":{"domain":[3.5,-0.5],"nice":false,"zero":false,"rangeMin":606,"rangeMax":398},"axis":null},"y2":{"datum":2.5}}},
    {"data":{"name":"legR"},"mark":{"type":"point","shape":"M-1,-0.19L1,-0.19L1,0.19L-1,0.19Z","filled":true,"size":441,"opacity":1,"strokeWidth":0,"clip":true},
     "encoding":{"x":{"datum":"dash","type":"nominal","scale":{"type":"point","domain":["dash","name"],"padding":0,"rangeMin":63,"rangeMax":93},"axis":null},
      "y":{"field":"r","type":"quantitative","scale":{"domain":[3.5,-0.5],"nice":false,"zero":false,"rangeMin":606,"rangeMax":398},"axis":null},
      "color":{"field":"s","type":"nominal","legend":null,"scale":{"domain":["S0","S1","S2","S3","S4","S5","S6","S7","S8","U9","U10","U11","U12","U13","U14","U15","U16","U17"],"range":["#7EB26D","#EAB839","#6ED0E0","#EF843C","#E24D42","#1F78C1","#BA43A9","#705DA0","#508642","#CCA300","#447EBC","#C15C17","#890F02","#0A437C","#6D1F62","#584477","#B7DBAB","#F4D598"]}}}},
    {"data":{"name":"legR"},"mark":{"type":"text","align":"left","baseline":"middle","clip":true},
     "encoding":{"x":{"datum":"name","type":"nominal","scale":{"type":"point","domain":["dash","name"],"padding":0,"rangeMin":63,"rangeMax":93},"axis":null},
      "y":{"field":"r","type":"quantitative","scale":{"domain":[3.5,-0.5],"nice":false,"zero":false,"rangeMin":606,"rangeMax":398},"axis":null},
      "text":{"field":"name"}}},
    {"data":{"name":"legR"},"transform":[{"fold":["min","max","avg","current"],"as":["col","txt"]}],"mark":{"type":"text","align":"right","baseline":"middle","clip":true},
     "encoding":{"x":{"field":"col","type":"nominal","scale":{"type":"point","domain":["min","max","avg","current"],"padding":0,"rangeMin":894,"rangeMax":1290},"axis":null},
      "y":{"field":"r","type":"quantitative","scale":{"domain":[3.5,-0.5],"nice":false,"zero":false,"rangeMin":606,"rangeMax":398},"axis":null},
      "text":{"field":"txt"}}},
    {"data":{"values":[{"col":"min","t":"min"},{"col":"max","t":"max"},{"col":"avg","t":"avg"},{"col":"current","t":"current ˅"}]},"mark":{"type":"text","align":"right","baseline":"middle","color":"#33a2e5","fontWeight":500,"dy":6},
     "encoding":{"x":{"field":"col","type":"nominal","scale":{"type":"point","domain":["min","max","avg","current"],"padding":0,"rangeMin":894,"rangeMax":1290},"axis":null},
      "y":{"datum":0,"type":"quantitative","scale":{"domain":[3.5,-0.5],"nice":false,"zero":false,"rangeMin":606,"rangeMax":398},"axis":null},
      "text":{"field":"t"}}},
    {"data":{"values":[{}]},"mark":{"type":"rect","color":"#16171b","clip":true},
     "encoding":{"x":{"datum":0,"type":"quantitative","scale":{"domain":[0,1],"nice":false,"zero":false,"rangeMin":20,"rangeMax":1315},"axis":null},"x2":{"datum":1},
      "y":{"datum":2.885,"type":"quantitative","scale":{"domain":[3.5,-0.5],"nice":false,"zero":false,"rangeMin":606,"rangeMax":398},"axis":null},"y2":{"datum":3.6}}}
   ],
   "resolve":{"scale":{"x":"independent"}}
  }
 ],
 "resolve":{"scale":{"x":"independent","y":"independent"}}
}
]
}
